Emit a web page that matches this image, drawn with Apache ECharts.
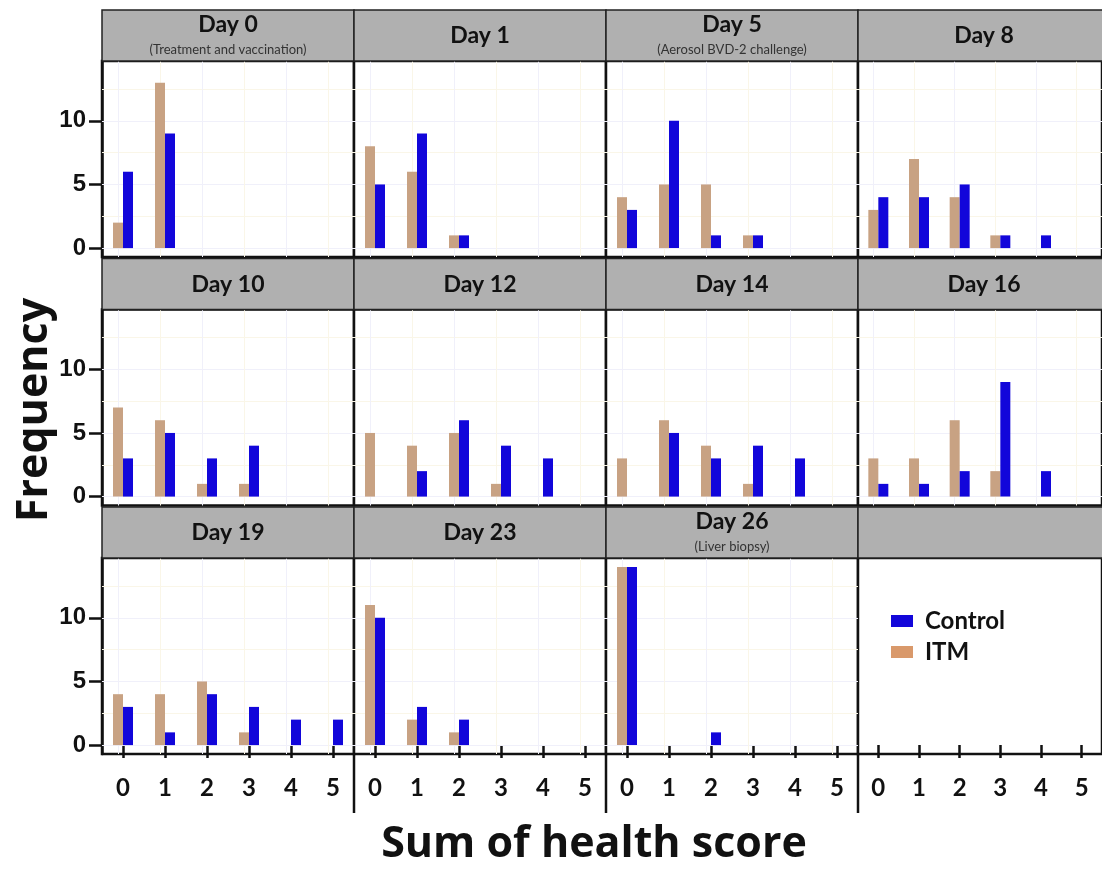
<!DOCTYPE html>
<html><head><meta charset="utf-8">
<script src="https://cdn.jsdelivr.net/npm/echarts@6/dist/echarts.min.js"></script>
<style>html,body{margin:0;padding:0;background:#fff}#c{width:1102px;height:870px}</style>
</head><body><div id="c"></div><script>
// ---- data ----
const scores = ['0','1','2','3','4','5'];
const yTicks = [0, 5, 10];
const panelTitles = ['Day 0','Day 1','Day 5','Day 8','Day 10','Day 12','Day 14','Day 16','Day 19','Day 23','Day 26'];
const panelNotes = ['(Treatment and vaccination)','','(Aerosol BVD-2 challenge)','','','','','','','','(Liver biopsy)'];

const itm_day0  = [2, 13, null, null, null, null];
const ctl_day0  = [6, 9, null, null, null, null];
const itm_day1  = [8, 6, 1, null, null, null];
const ctl_day1  = [5, 9, 1, null, null, null];
const itm_day5  = [4, 5, 5, 1, null, null];
const ctl_day5  = [3, 10, 1, 1, null, null];
const itm_day8  = [3, 7, 4, 1, null, null];
const ctl_day8  = [4, 4, 5, 1, 1, null];
const itm_day10 = [7, 6, 1, 1, null, null];
const ctl_day10 = [3, 5, 3, 4, null, null];
const itm_day12 = [5, 4, 5, 1, null, null];
const ctl_day12 = [null, 2, 6, 4, 3, null];
const itm_day14 = [3, 6, 4, 1, null, null];
const ctl_day14 = [null, 5, 3, 4, 3, null];
const itm_day16 = [3, 3, 6, 2, null, null];
const ctl_day16 = [1, 1, 2, 9, 2, null];
const itm_day19 = [4, 4, 5, 1, null, null];
const ctl_day19 = [3, 1, 4, 3, 2, 2];
const itm_day23 = [11, 2, 1, null, null, null];
const ctl_day23 = [10, 3, 2, null, null, null];
const itm_day26 = [14, null, null, null, null, null];
const ctl_day26 = [14, null, 1, null, null, null];

const itmData = [itm_day0, itm_day1, itm_day5, itm_day8, itm_day10, itm_day12, itm_day14, itm_day16, itm_day19, itm_day23, itm_day26];
const ctlData = [ctl_day0, ctl_day1, ctl_day5, ctl_day8, ctl_day10, ctl_day12, ctl_day14, ctl_day16, ctl_day19, ctl_day23, ctl_day26];

// ---- layout / style ----
const LEFT0 = 102, COLW = 252, ROW0 = 10, ROWP = 248.5, STRIPH = 51, PANELH = 196;
const ITM_COLOR = '#C8A283', CTL_COLOR = '#1206DA', ITM_LEGEND = '#D9996B';
const INK = '#111';
const gridLines = [0, 2.5, 5, 7.5, 10, 12.5];

const grids = [], xAxes = [], yAxes = [], series = [], graphics = [];
for (let i = 0; i < 12; i++) {
  const col = i % 4, row = Math.floor(i / 4);
  const left = LEFT0 + col * COLW;
  const stripTop = ROW0 + row * ROWP;
  const top = stripTop + STRIPH;
  grids.push({ left: left, top: top, width: COLW, height: PANELH, show: true,
    borderColor: INK, borderWidth: 2.5, backgroundColor: '#fff', containLabel: false });
  xAxes.push({ type: 'category', gridIndex: i, data: scores, boundaryGap: true,
    axisLine: { show: false },
    axisTick: { show: row === 2, alignWithLabel: true, length: 13, lineStyle: { color: INK, width: 2.5 } },
    axisLabel: { show: row === 2, margin: 22, color: INK, fontFamily: 'Lato', fontWeight: 'bold', fontSize: 24 },
    splitLine: { show: false } });
  yAxes.push({ type: 'value', gridIndex: i, min: -0.7, max: 14.7,
    axisLine: { show: col === 0, lineStyle: { color: INK, width: 2.5 } }, splitLine: { show: false },
    axisTick: { show: col === 0, customValues: yTicks, length: 13, lineStyle: { color: INK, width: 2.5 } },
    axisLabel: { show: col === 0, customValues: yTicks, margin: 16, color: INK, fontFamily: 'Liberation Sans', fontWeight: 'bold', fontSize: 24 } });

  // strip
  graphics.push({ type: 'rect', z: 10, shape: { x: left, y: stripTop, width: COLW, height: STRIPH },
    style: { fill: '#B0B0B0', stroke: '#222', lineWidth: 1.5 } });
  if (i < 11) {
    const cx = left + COLW / 2;
    const hasNote = panelNotes[i] !== '';
    graphics.push({ type: 'text', z: 11, x: cx, y: stripTop + (hasNote ? 15 : 26),
      style: { text: panelTitles[i], font: 'bold 23px Lato', fill: INK, align: 'center', verticalAlign: 'middle', textAlign: 'center', textVerticalAlign: 'middle' } });
    if (hasNote) {
      graphics.push({ type: 'text', z: 11, x: cx, y: stripTop + 40,
        style: { text: panelNotes[i], font: '13px Lato', fill: '#333', align: 'center', verticalAlign: 'middle', textAlign: 'center', textVerticalAlign: 'middle' } });
    }
    const ml = [];
    gridLines.forEach((v, k) => ml.push({ yAxis: v, lineStyle: { color: k % 2 ? '#FAF6E8' : '#F0F0FA' } }));
    scores.forEach((s, k) => ml.push({ xAxis: s, lineStyle: { color: k % 2 ? '#FAF6E8' : '#F0F0FA' } }));
    series.push({ name: 'ITM', type: 'bar', xAxisIndex: i, yAxisIndex: i, data: itmData[i],
      barWidth: 10, barGap: '0%', itemStyle: { color: ITM_COLOR }, z: 3,
      markLine: { silent: true, symbol: 'none', z: 1, label: { show: false }, lineStyle: { type: 'solid', width: 1 }, data: ml } });
    series.push({ name: 'Control', type: 'bar', xAxisIndex: i, yAxisIndex: i, data: ctlData[i],
      barWidth: 10, barGap: '0%', itemStyle: { color: CTL_COLOR }, z: 3 });
  }
}
// separators below the bottom axis
[1, 2, 3].forEach(c => {
  const x = LEFT0 + c * COLW;
  graphics.push({ type: 'line', z: 10, shape: { x1: x, y1: ROW0 + 2 * ROWP + STRIPH + PANELH, x2: x, y2: 813 },
    style: { stroke: INK, lineWidth: 2.5 } });
});
// axis titles
graphics.push({ type: 'text', z: 11, x: 35, y: 410, rotation: Math.PI / 2,
  style: { text: 'Frequency', font: 'bold 43px "Open Sans"', fill: INK, align: 'center', verticalAlign: 'middle', textAlign: 'center', textVerticalAlign: 'middle' } });
graphics.push({ type: 'text', z: 11, x: 594, y: 845,
  style: { text: 'Sum of health score', font: 'bold 43px "Open Sans"', fill: INK, align: 'center', verticalAlign: 'middle', textAlign: 'center', textVerticalAlign: 'middle' } });

const chart = echarts.init(document.getElementById('c'), null, { renderer: 'canvas' });
chart.setOption({
  animation: false,
  backgroundColor: '#fff',
  grid: grids, xAxis: xAxes, yAxis: yAxes, series: series,
  legend: { orient: 'vertical', left: 886, top: 604, icon: 'rect', itemWidth: 22, itemHeight: 12, itemGap: 7,
    textStyle: { fontFamily: 'Lato', fontWeight: 'bold', fontSize: 24, color: INK, padding: [0, 0, 0, 7] },
    data: [{ name: 'Control', itemStyle: { color: CTL_COLOR } }, { name: 'ITM', itemStyle: { color: ITM_LEGEND } }] },
  graphic: { elements: graphics }
});
</script></body></html>
